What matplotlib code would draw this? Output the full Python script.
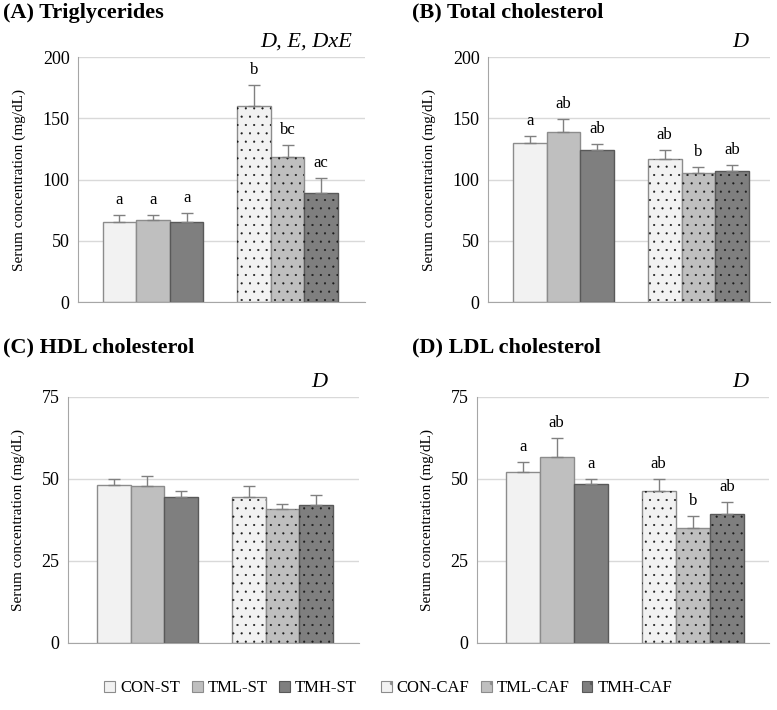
import matplotlib
matplotlib.use("Agg")
import matplotlib.pyplot as plt
from matplotlib.patches import Patch

plt.rcParams['font.family'] = ['Liberation Serif', 'DejaVu Serif']
plt.rcParams['hatch.linewidth'] = 0.3

groups = ["CON-ST", "TML-ST", "TMH-ST", "CON-CAF", "TML-CAF", "TMH-CAF"]
fills = ["#f2f2f2", "#bfbfbf", "#7f7f7f", "#f2f2f2", "#bfbfbf", "#7f7f7f"]
edges = ["#8c8c8c", "#8c8c8c", "#595959", "#8c8c8c", "#8c8c8c", "#595959"]

# means and upper error (SEM)
tg_mean = [65.0, 66.7, 65.6, 159.7, 118.0, 88.7]
tg_sem = [5.7, 4.5, 7.0, 17.2, 10.0, 12.3]
tg_letters = ["a", "a", "a", "b", "bc", "ac"]

tc_mean = [129.8, 138.8, 123.8, 117.0, 105.3, 106.7]
tc_sem = [5.7, 10.6, 5.2, 7.0, 4.9, 5.1]
tc_letters = ["a", "ab", "ab", "ab", "b", "ab"]

hdl_mean = [48.3, 47.9, 44.4, 44.6, 40.7, 42.0]
hdl_sem = [1.6, 3.1, 1.8, 3.2, 1.8, 3.0]
hdl_letters = ["", "", "", "", "", ""]

ldl_mean = [52.1, 56.6, 48.6, 46.3, 35.2, 39.2]
ldl_sem = [3.0, 5.8, 1.4, 3.7, 3.6, 3.8]
ldl_letters = ["a", "ab", "a", "ab", "b", "ab"]

# title, factors, data, ymax, step, axes rect, xlim, title pos, factor x
panels = [
    ("(A) Triglycerides", "D, E, DxE", tg_mean, tg_sem, tg_letters, 200, 50,
     [0.1004, 0.5746, 0.3694, 0.3451], (-0.558, 1.576), (0.004, 0.982), 0.955),
    ("(B) Total cholesterol", "D", tc_mean, tc_sem, tc_letters, 200, 50,
     [0.628, 0.5746, 0.363, 0.3451], (-0.559, 1.53), (0.530, 0.982), 0.922),
    ("(C) HDL cholesterol", "D", hdl_mean, hdl_sem, hdl_letters, 75, 25,
     [0.0875, 0.0944, 0.3745, 0.3465], (-0.589, 1.567), (0.004, 0.511), 0.893),
    ("(D) LDL cholesterol", "D", ldl_mean, ldl_sem, ldl_letters, 75, 25,
     [0.6139, 0.0944, 0.3758, 0.3465], (-0.585, 1.56), (0.530, 0.511), 0.928),
]

width = 0.25
xpos = [g + (i - 1) * width for g in (0, 1) for i in range(3)]

fig = plt.figure(figsize=(7.77, 7.10), dpi=100)

for title, factors, mean, sem, letters, ymax, step, rect, xlim, tpos, fx in panels:
    ax = fig.add_axes(rect)
    for i in range(6):
        ax.bar(xpos[i], mean[i], width, color=fills[i], edgecolor=edges[i],
               linewidth=1, zorder=2)
        if i >= 3:
            ax.bar(xpos[i], mean[i], width, color="none", edgecolor="#1a1a1a",
                   linewidth=0, hatch="..", zorder=3)
    ax.errorbar(xpos, mean, yerr=[[0] * 6, sem], fmt="none", ecolor="#808080",
                elinewidth=1, capsize=4, capthick=1, zorder=4)
    for i in range(6):
        if letters[i]:
            ax.annotate(letters[i], (xpos[i], mean[i] + sem[i]),
                        xytext=(0, 5), textcoords="offset points",
                        ha="center", va="bottom", fontsize=12)
    ax.set_xlim(*xlim)
    ax.set_ylim(0, ymax)
    ax.set_yticks(range(0, ymax + 1, step))
    ax.set_xticks([])
    ax.tick_params(axis="y", length=0, labelsize=13, pad=6)
    ax.yaxis.grid(True, color="#d9d9d9", linewidth=1)
    ax.set_axisbelow(True)
    for s in ("top", "right"):
        ax.spines[s].set_visible(False)
    ax.spines["left"].set_color("#a6a6a6")
    ax.spines["bottom"].set_color("#a6a6a6")
    ax.set_ylabel("Serum concentration (mg/dL)", fontsize=11, labelpad=12)

    fig.text(tpos[0], tpos[1], title, fontsize=16, fontweight="bold",
             ha="left", va="center")
    ax.text(fx, 1.06, factors, transform=ax.transAxes, fontsize=16,
            style="italic", ha="right", va="center")

handles = []
for i in range(6):
    handles.append(Patch(facecolor=fills[i], edgecolor=edges[i],
                         hatch="." if i >= 3 else None, linewidth=0.8))

# ST and CAF groups as two legends, with a wider gap between them
leg_opts = dict(ncol=3, frameon=False, fontsize=12, handlelength=0.65,
                handleheight=0.65, handletextpad=0.3, columnspacing=0.7,
                borderpad=0, borderaxespad=0)
leg1 = fig.legend(handles[:3], groups[:3], loc="center right",
                  bbox_to_anchor=(357 / 777, 0.031), **leg_opts)
fig.legend(handles[3:], groups[3:], loc="center left",
           bbox_to_anchor=(381 / 777, 0.031), **leg_opts)

fig.savefig("out.png", dpi=100)
